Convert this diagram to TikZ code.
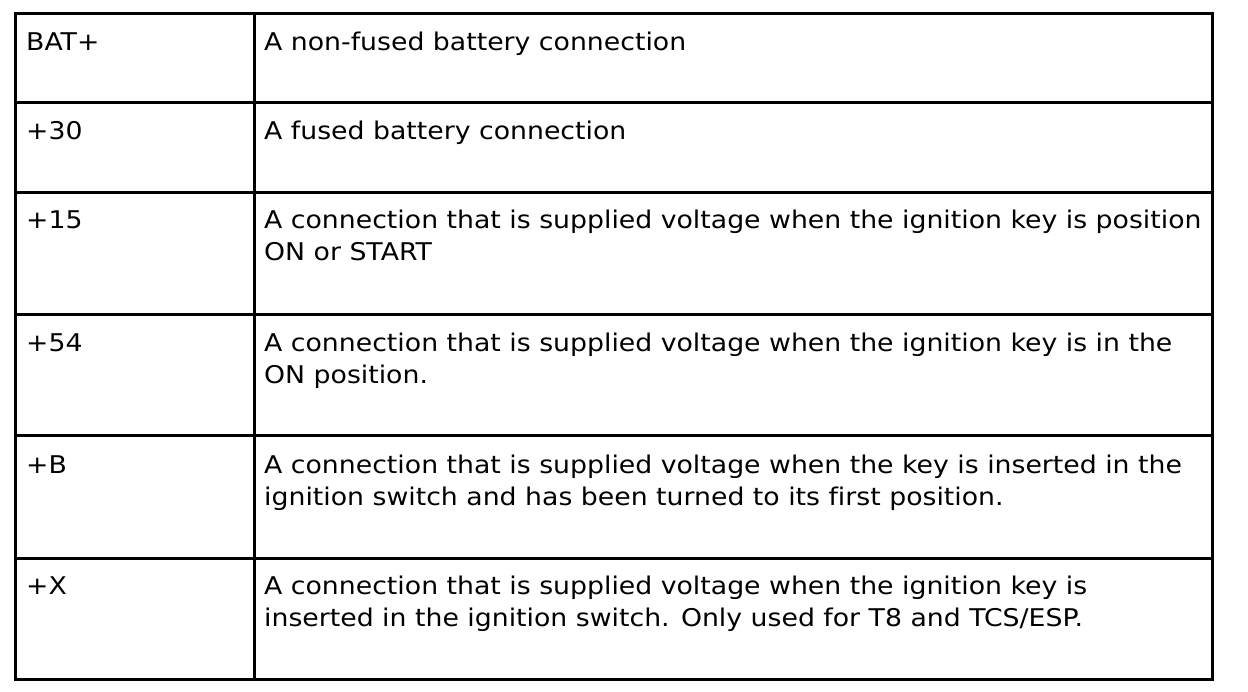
\documentclass[tikz,border=0pt]{standalone}
\usepackage{fontspec}
\setmainfont[FakeStretch=1.095,Ligatures=NoCommon]{DejaVu Sans}
\tikzset{
  cell/.style={anchor=base west, inner sep=0pt, align=left,
    font=\fontsize{24.4}{32}\selectfont},
  rule/.style={line width=3pt}
}

\begin{document}
\begin{tikzpicture}[x=1pt,y=-1pt]
  \useasboundingbox (0,0) rectangle (1248,692);
  % frame and grid
  \draw[rule] (15,14) rectangle (1212,679);
  \draw[rule] (254,14) -- (254,679);
  \foreach \y in {103,193,315,436,558}
    \draw[rule] (15,\y) -- (1212,\y);
  % terminal names
  \node[cell] (bat) at (26,51) {BAT+};
  \node[cell] (t30) at (26,140) {+30};
  \node[cell] (t15) at (26,229) {+15};
  \node[cell] (t54) at (26,352) {+54};
  \node[cell] (tb) at (26,473) {+B};
  \node[cell] (tx) at (26,594) {+X};
  % descriptions (base = last line)
  \node[cell] (batd) at (264,51) {A non-fused battery connection};
  \node[cell] (t30d) at (264,140) {A fused battery connection};
  \node[cell] (t15d) at (264,261) {A connection that is supplied voltage when the ignition key is position\\ON or START};
  \node[cell] (t54d) at (264,384) {A connection that is supplied voltage when the ignition key is in the\\ON position.};
  \node[cell] (tbd) at (264,505) {A connection that is supplied voltage when the key is inserted in the\\ignition switch and has been turned to its first position.};
  \node[cell] (txd) at (264,626) {A connection that is supplied voltage when the ignition key is\\inserted in the ignition switch. Only used for T8 and TCS/ESP.};
\end{tikzpicture}
\end{document}
